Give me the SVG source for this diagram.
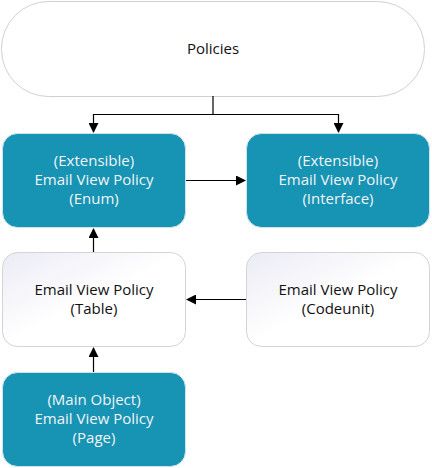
<svg xmlns="http://www.w3.org/2000/svg" width="432" height="468" viewBox="0 0 432 468">
<style>
.t{font-family:"Open Sans","Noto Sans","DejaVu Sans",sans-serif;font-size:15px;text-anchor:middle}
.teal{fill:#1793b4;stroke:#cfe3ea;stroke-width:1}
.light{fill:url(#g);stroke:#d4d4d4;stroke-width:1}
.w{fill:#f2f4f6}
.d{fill:#111}
.c{stroke:#000;stroke-width:1.2;fill:none}
</style>
<defs>
<linearGradient id="g" x1="0" y1="0" x2="1" y2="1">
<stop offset="0" stop-color="#ebebf5"/>
<stop offset="0.5" stop-color="#ffffff"/>
<stop offset="1" stop-color="#ffffff"/>
</linearGradient>
<marker id="a" markerWidth="10" markerHeight="10" refX="9" refY="5" orient="auto" markerUnits="userSpaceOnUse">
<path d="M0,0 L10,5 L0,10 Z" fill="#000"/>
</marker>
</defs>
<rect width="432" height="468" fill="#fff"/>
<g id="policies">
<rect x="1.5" y="1.5" width="423" height="95" rx="47" fill="#fff" stroke="#d0d0d0"/>
<text class="t d" x="213" y="54">Policies</text>
</g>
<g id="enum">
<rect class="teal" x="2.5" y="133.5" width="183" height="94" rx="15"/>
<text class="t w" x="94" y="166">(Extensible)</text>
<text class="t w" x="94" y="185">Email View Policy</text>
<text class="t w" x="94" y="204">(Enum)</text>
</g>
<g id="interface">
<rect class="teal" x="246.5" y="133.5" width="183" height="94" rx="15"/>
<text class="t w" x="338" y="166">(Extensible)</text>
<text class="t w" x="338" y="185">Email View Policy</text>
<text class="t w" x="338" y="204">(Interface)</text>
</g>
<g id="table">
<rect class="light" x="2.5" y="252.5" width="183" height="94" rx="15"/>
<text class="t d" x="94" y="295">Email View Policy</text>
<text class="t d" x="94" y="314">(Table)</text>
</g>
<g id="codeunit">
<rect class="light" x="246.5" y="252.5" width="183" height="94" rx="15"/>
<text class="t d" x="338" y="295">Email View Policy</text>
<text class="t d" x="338" y="314">(Codeunit)</text>
</g>
<g id="page">
<rect class="teal" x="2.5" y="372.5" width="183" height="94" rx="15"/>
<text class="t w" x="94" y="405">(Main Object)</text>
<text class="t w" x="94" y="424">Email View Policy</text>
<text class="t w" x="94" y="443">(Page)</text>
</g>
<g id="connectors">
<path class="c" d="M213,96 V114.5 H93.5 V132" marker-end="url(#a)"/>
<path class="c" d="M213,114.5 H338.5 V132" marker-end="url(#a)"/>
<path class="c" d="M186,180.5 H245" marker-end="url(#a)"/>
<path class="c" d="M93.5,252 V229" marker-end="url(#a)"/>
<path class="c" d="M246,299.5 H187" marker-end="url(#a)"/>
<path class="c" d="M93.5,372 V348" marker-end="url(#a)"/>
</g>
</svg>
